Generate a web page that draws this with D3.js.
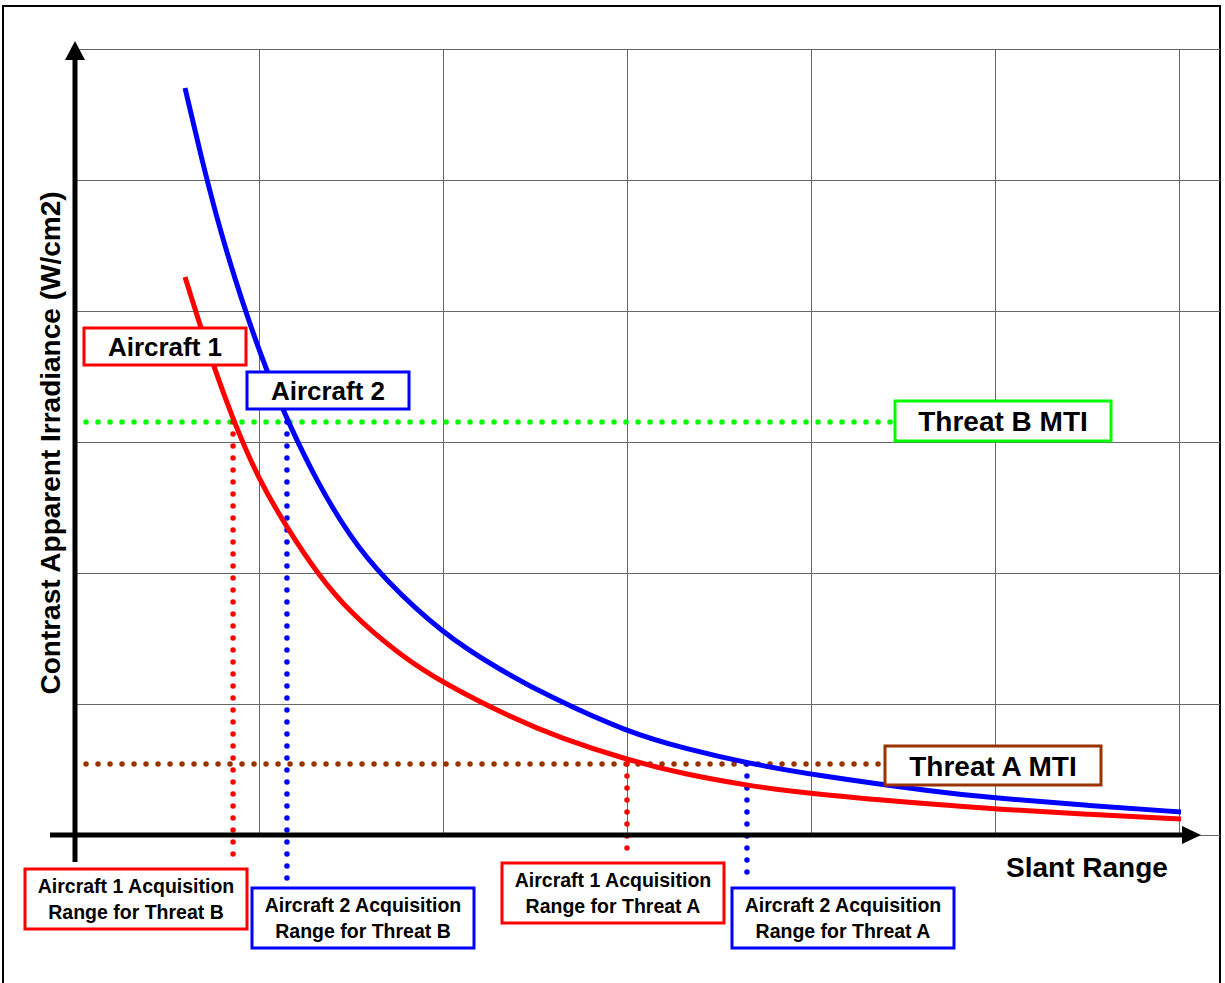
<!DOCTYPE html>
<html>
  <head>
    <meta charset="utf-8" />
    <script src="https://d3js.org/d3.v7.min.js"></script>
    <style>
      body { margin: 0; background: #FFFFFF; }
      .grid line { stroke: #666666; stroke-width: 1; }
      .grid path { display: none; }
      .lbl { font-family: "Liberation Sans", Arial, sans-serif; font-weight: bold; fill: #000000; }
    </style>
  </head>
  <body>
    <div id="chart"></div>
    <script type="text/javascript">

      var w = 1225, h = 983;

      // curve readings (slant range in grid units, irradiance in grid units)
      var aircraft1X = [0.598, 0.679, 0.761, 0.870, 0.995, 1.152, 1.315, 1.495, 1.766, 2.0, 2.364, 2.636, 3.0, 3.326, 3.652, 4.005, 4.701, 5.0, 5.5, 6.011];
      var aircraft1Y = [4.26, 3.893, 3.55, 3.13, 2.725, 2.344, 2.0, 1.695, 1.374, 1.16, 0.901, 0.74, 0.573, 0.46, 0.378, 0.313, 0.229, 0.198, 0.158, 0.122];
      var aircraft2X = [0.598, 0.696, 0.788, 0.908, 1.043, 1.158, 1.315, 1.495, 1.674, 2.0, 2.310, 2.582, 3.0, 3.326, 3.652, 4.005, 4.701, 5.0, 5.5, 6.011];
      var aircraft2Y = [5.702, 5.115, 4.618, 4.069, 3.534, 3.153, 2.695, 2.275, 1.962, 1.534, 1.26, 1.053, 0.786, 0.655, 0.55, 0.46, 0.325, 0.282, 0.225, 0.176];

      var threatB = 3.153, threatA = 0.542;
      // acquisition ranges where each curve meets each threshold
      var acqRanges = [
        { x: 0.859, y: threatB, color: "#FF0000", lines: ["Aircraft 1 Acquisition", "Range for Threat B"], bx: 25, by: 869, bottom: 858 },
        { x: 1.152, y: threatB, color: "#0000FF", lines: ["Aircraft 2 Acquisition", "Range for Threat B"], bx: 252, by: 888, bottom: 882 },
        { x: 3.0, y: threatA, color: "#FF0000", lines: ["Aircraft 1 Acquisition", "Range for Threat A"], bx: 502, by: 863, bottom: 858 },
        { x: 3.652, y: threatA, color: "#0000FF", lines: ["Aircraft 2 Acquisition", "Range for Threat A"], bx: 732, by: 888, bottom: 882 }
      ];

      var gridX = [1, 2, 3, 4, 5, 6];
      var gridY = [0, 1, 2, 3, 4, 5, 6];

      var x = d3.scaleLinear().domain([0, 6.2228]).range([75, 1220]);
      var y = d3.scaleLinear().domain([0, 6]).range([835, 49]);

      var svg = d3.select("#chart").append("svg")
        .attr("width", w).attr("height", h);

      // outer frame
      svg.append("rect").attr("x", 3).attr("y", 6).attr("width", 1217).attr("height", 990)
        .attr("fill", "none").attr("stroke", "#000").attr("stroke-width", 2);

      // grid
      svg.append("g").attr("class", "grid")
        .attr("transform", "translate(0," + y(0) + ")")
        .call(d3.axisBottom(x).tickValues(gridX).tickSize(-(y(0) - y(6))).tickFormat(""));
      svg.append("g").attr("class", "grid")
        .attr("transform", "translate(" + x(0) + ",0)")
        .call(d3.axisLeft(y).tickValues(gridY).tickSize(-(x.range()[1] - x(0))).tickFormat(""));

      // dotted lines
      function dotted(x1, y1, x2, y2, color) {
        svg.append("line").attr("x1", x1).attr("y1", y1).attr("x2", x2).attr("y2", y2)
          .attr("stroke", color).attr("stroke-width", 5.5)
          .attr("stroke-linecap", "round").attr("stroke-dasharray", "0 12");
      }
      dotted(x(0.06), y(threatB), 893, y(threatB), "#00FF00");
      dotted(x(0.06), y(threatA), 884, y(threatA), "#993300");

      acqRanges.forEach(function(d) {
        dotted(x(d.x), y(d.y), x(d.x), d.bottom, d.color);
      });

      // axes with arrow heads
      svg.append("line").attr("x1", 75).attr("y1", 862).attr("x2", 75).attr("y2", 58)
        .attr("stroke", "#000").attr("stroke-width", 5);
      svg.append("path").attr("d", "M65,60 L75,41 L85,60 Z").attr("fill", "#000");
      svg.append("line").attr("x1", 50).attr("y1", y(0)).attr("x2", 1185).attr("y2", y(0))
        .attr("stroke", "#000").attr("stroke-width", 5);
      svg.append("path").attr("d", "M1182,826 L1201,835 L1182,844 Z").attr("fill", "#000");

      // curves
      var line = d3.line()
        .x(function(d) { return x(d[0]); })
        .y(function(d) { return y(d[1]); })
        .curve(d3.curveBasis);

      svg.append("path").datum(d3.zip(aircraft1X, aircraft1Y)).attr("d", line)
        .attr("fill", "none").attr("stroke", "#FF0000").attr("stroke-width", 5);
      svg.append("path").datum(d3.zip(aircraft2X, aircraft2Y)).attr("d", line)
        .attr("fill", "none").attr("stroke", "#0000FF").attr("stroke-width", 5);

      // labelled boxes
      function box(x0, y0, bw, bh, color, lines, size, lineGap) {
        svg.append("rect").attr("x", x0).attr("y", y0).attr("width", bw).attr("height", bh)
          .attr("fill", "#FFFFFF").attr("stroke", color).attr("stroke-width", 3);
        var n = lines.length;
        lines.forEach(function(t, i) {
          svg.append("text").attr("class", "lbl")
            .attr("x", x0 + bw / 2)
            .attr("y", y0 + bh / 2 + (i - (n - 1) / 2) * lineGap)
            .attr("dy", "0.36em")
            .attr("text-anchor", "middle")
            .style("font-size", size + "px")
            .text(t);
        });
      }

      box(84, 328, 162, 37, "#FF0000", ["Aircraft 1"], 26, 0);
      box(247, 372, 162, 37, "#0000FF", ["Aircraft 2"], 26, 0);
      box(895, 401, 216, 40, "#00FF00", ["Threat B MTI"], 28, 0);
      box(885, 746, 216, 39, "#993300", ["Threat A MTI"], 28, 0);

      acqRanges.forEach(function(d) {
        box(d.bx, d.by, 222, 60, d.color, d.lines, 19.5, 26);
      });

      // axis titles
      svg.append("text").attr("class", "lbl")
        .attr("x", 1087).attr("y", 867).attr("dy", "0.36em")
        .attr("text-anchor", "middle").style("font-size", "28px")
        .text("Slant Range");
      svg.append("text").attr("class", "lbl")
        .attr("transform", "translate(50,443) rotate(-90)")
        .attr("dy", "0.36em")
        .attr("text-anchor", "middle").style("font-size", "28px")
        .text("Contrast Apparent Irradiance (W/cm2)");

    </script>
  </body>
</html>
